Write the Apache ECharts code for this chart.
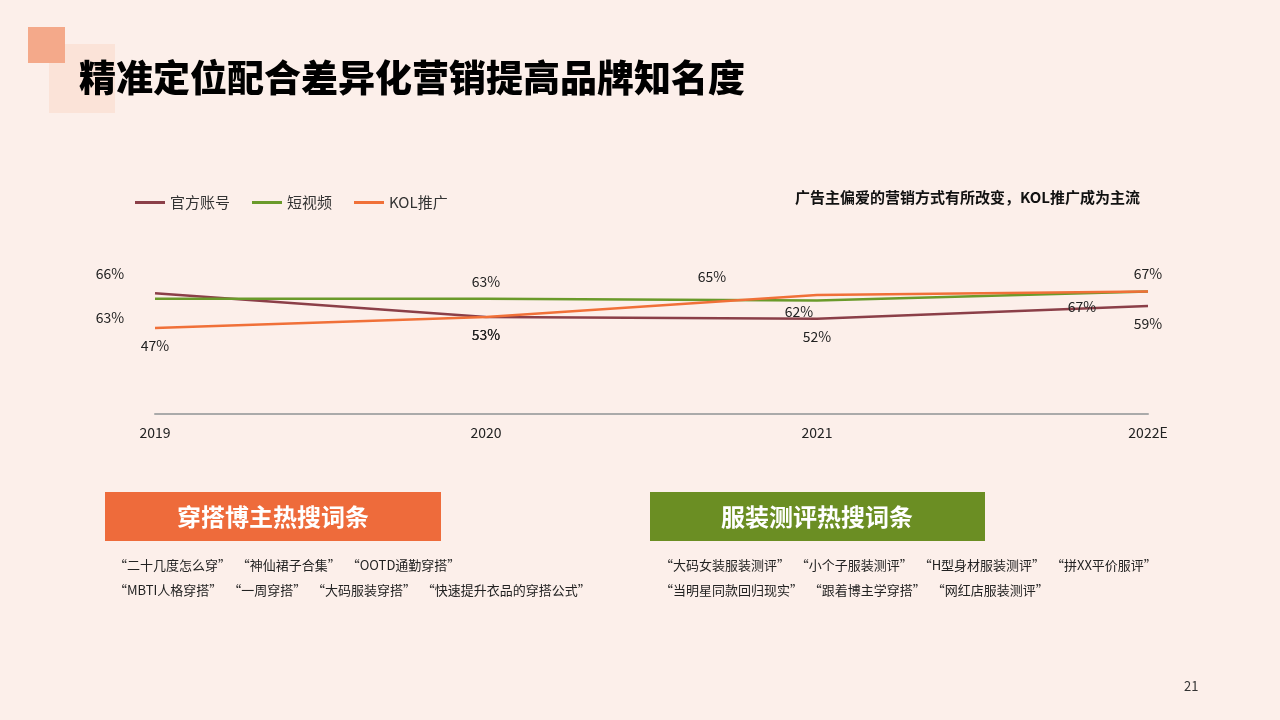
<!DOCTYPE html>
<html>
<head>
<meta charset="utf-8">
<script src="https://cdn.jsdelivr.net/npm/echarts@6/dist/echarts.min.js"></script>
<style>
  html, body { margin: 0; padding: 0; background: #fcefea; }
  #main { width: 1280px; height: 720px; }
</style>
</head>
<body>
<div id="main"></div>
<script>
var years = ['2019', '2020', '2021', '2022E'];
var official = [66, 53, 52, 59];
var video = [63, 63, 62, 67];
var kol = [47, 53, 65, 67];

// label offsets relative to each point
var officialOff = [[-45, -20], [0, 18], [0, 18], [0, 18]];
var videoOff = [[-45, 19], [0, -17], [-18, 11], [0, -18]];
var kolOff = [[0, 18], [0, 18], [-105, -18], [-66, 15]];

var leftWords = ['“二十几度怎么穿”  “神仙裙子合集”  “OOTD通勤穿搭”',
    '“MBTI人格穿搭”  “一周穿搭”  “大码服装穿搭”  “快速提升衣品的穿搭公式”'];
var rightWords = ['“大码女装服装测评”  “小个子服装测评”  “H型身材服装测评”  “拼XX平价服评”',
    '“当明星同款回归现实”  “跟着博主学穿搭”  “网红店服装测评”'];

var font = '"Noto Sans CJK SC", "Noto Sans", sans-serif';

function makeData(vals, offs) {
    return vals.map(function (v, i) {
        return {value: v, label: {offset: offs[i]}};
    });
}

function makeSeries(name, color, vals, offs) {
    return {
        name: name,
        type: 'line',
        data: makeData(vals, offs),
        symbol: 'circle',
        symbolSize: 0.1,
        lineStyle: {color: color, width: 2.5},
        itemStyle: {color: color},
        label: {
            show: true,
            position: 'inside',
            formatter: '{c}%',
            color: '#222',
            fontSize: 14,
            fontFamily: font
        }
    };
}

var chart = echarts.init(document.getElementById('main'));
var option = {
    backgroundColor: '#fcefea',
    textStyle: {fontFamily: font},
    legend: {
        left: 130,
        top: 190,
        itemWidth: 30,
        itemHeight: 3,
        itemGap: 22,
        icon: 'rect',
        textStyle: {fontSize: 15, color: '#333'},
        data: ['官方账号', '短视频', 'KOL推广']
    },
    grid: {left: 155, right: 132, top: 231, bottom: 306},
    xAxis: {
        type: 'category',
        data: years,
        boundaryGap: false,
        axisLine: {lineStyle: {color: '#aaa', width: 2}},
        axisTick: {show: false},
        axisLabel: {color: '#222', fontSize: 14, margin: 12}
    },
    yAxis: {type: 'value', min: 0, max: 100, show: false, splitLine: {show: false}},
    series: [
        makeSeries('官方账号', '#8b3f48', official, officialOff),
        makeSeries('短视频', '#6a9a2a', video, videoOff),
        makeSeries('KOL推广', '#f07038', kol, kolOff)
    ],
    graphic: [
        {type: 'rect', shape: {x: 49, y: 44, width: 66, height: 69}, style: {fill: '#fbe3d8'}},
        {type: 'rect', shape: {x: 28, y: 27, width: 37, height: 36}, style: {fill: '#f4a98a'}},
        {type: 'text', left: 79, top: 59, style: {text: '精准定位配合差异化营销提高品牌知名度', font: '900 37px ' + font, fill: '#000'}},
        {type: 'text', right: 140, top: 190, style: {text: '广告主偏爱的营销方式有所改变，KOL推广成为主流', font: 'bold 15px ' + font, fill: '#111'}},
        {type: 'rect', shape: {x: 105, y: 492, width: 336, height: 49}, style: {fill: '#ee6b3b'}},
        {type: 'text', x: 273, y: 517, style: {text: '穿搭博主热搜词条', font: 'bold 24px ' + font, fill: '#fff', textAlign: 'center', textVerticalAlign: 'middle'}},
        {type: 'rect', shape: {x: 650, y: 492, width: 335, height: 49}, style: {fill: '#6b8e23'}},
        {type: 'text', x: 817, y: 517, style: {text: '服装测评热搜词条', font: 'bold 24px ' + font, fill: '#fff', textAlign: 'center', textVerticalAlign: 'middle'}},
        {type: 'text', x: 114, y: 559, style: {text: leftWords[0], font: '13px ' + font, fill: '#222'}},
        {type: 'text', x: 114, y: 584, style: {text: leftWords[1], font: '13px ' + font, fill: '#222'}},
        {type: 'text', x: 660, y: 559, style: {text: rightWords[0], font: '13px ' + font, fill: '#222'}},
        {type: 'text', x: 660, y: 584, style: {text: rightWords[1], font: '13px ' + font, fill: '#222'}},
        {type: 'text', x: 1184, y: 680, style: {text: '21', font: '13px ' + font, fill: '#333'}}
    ]
};
chart.setOption(option);
</script>
</body>
</html>
